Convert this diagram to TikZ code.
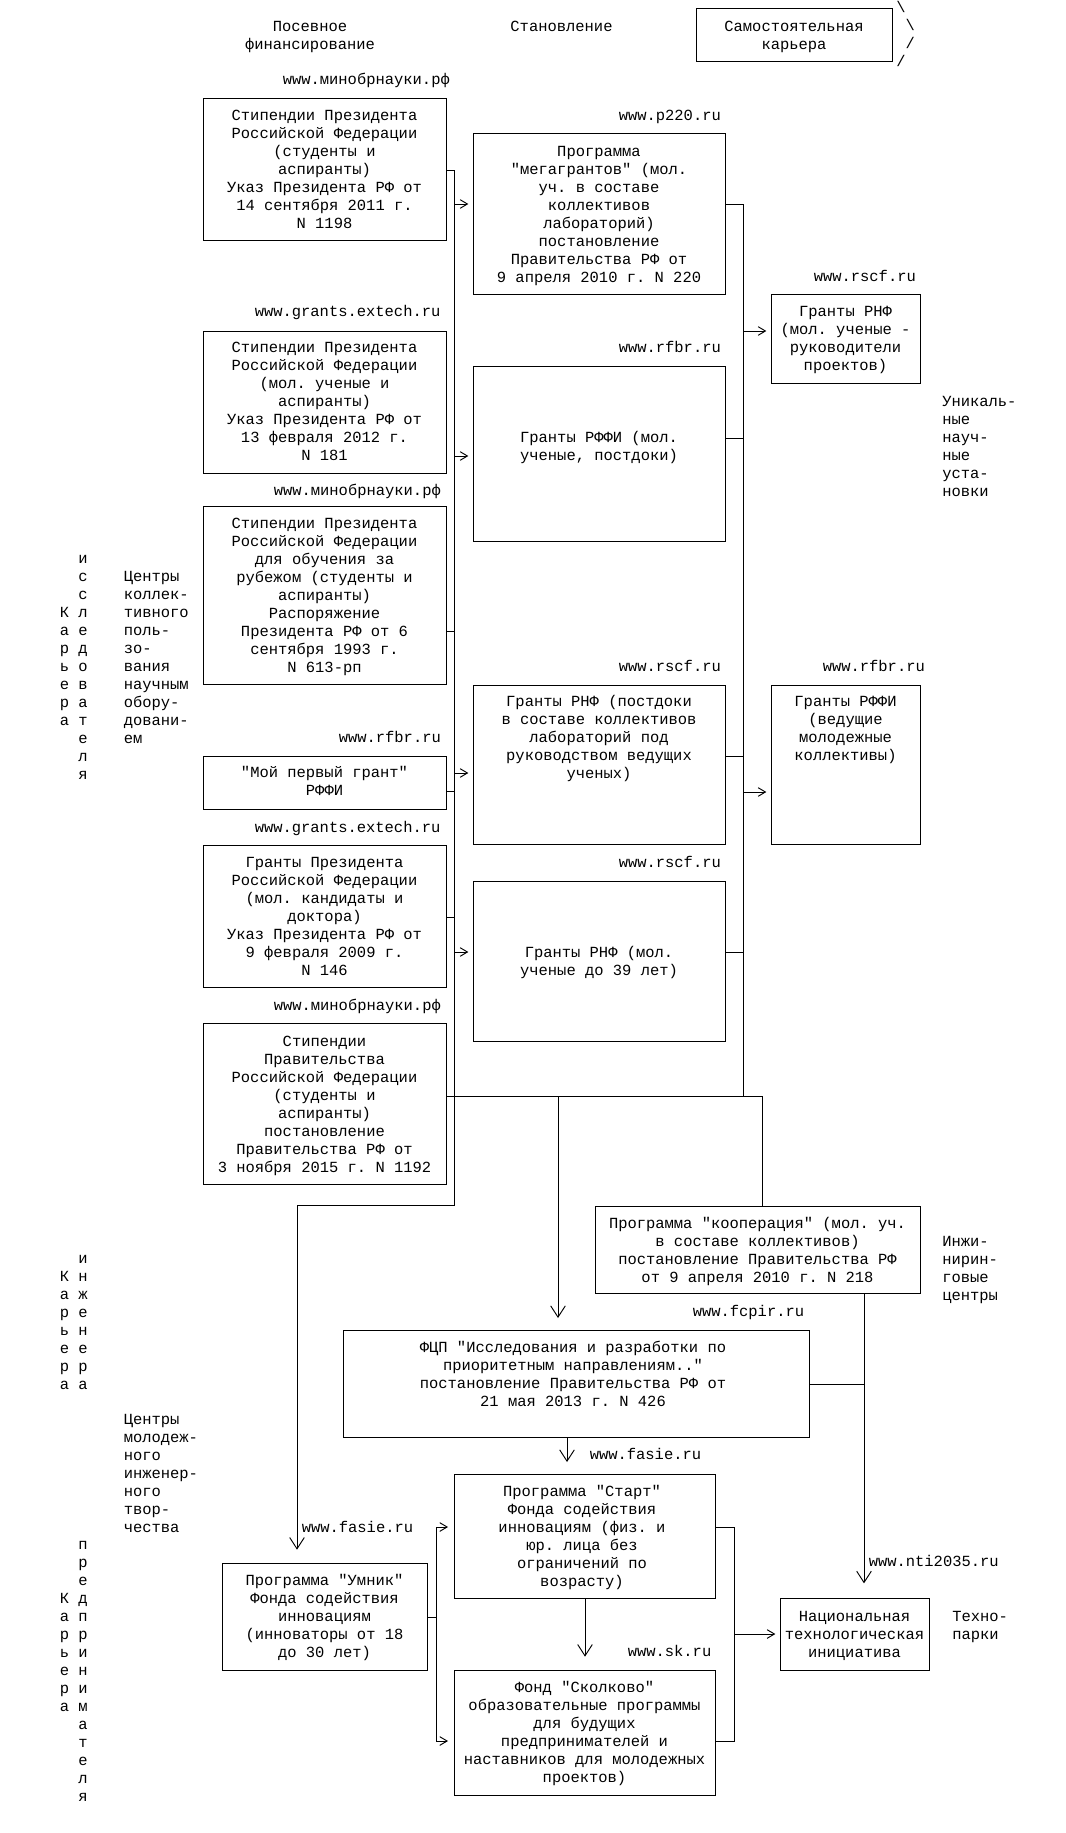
\documentclass[tikz,border=0pt]{standalone}
\usepackage{fontspec}
\setmonofont{Liberation Mono}
\usetikzlibrary{arrows.meta,fit}

\tikzset{
  box/.style={draw, line width=0.7pt, inner sep=0pt, outer sep=0pt},
  txt/.style={font=\ttfamily\fontsize{11.6}{13.5}\selectfont, align=center, inner sep=0pt, anchor=base},
  lbl/.style={txt, align=left, anchor=base west},
  url/.style={txt, anchor=base west},
  wire/.style={line width=0.7pt},
  arr/.style={wire, -{Straight Barb[length=5.5pt,width=6.5pt]}, shorten >=3.5pt},
  darr/.style={wire, -{Straight Barb[length=8.5pt,width=11pt]}},
}

\begin{document}
\begin{tikzpicture}[x=0.75pt,y=-0.75pt]
\useasboundingbox (0,0) rectangle (1065,1833);

% headings (a node's base is the base of its last line)
\node[txt] (seed) at (310,49.5) {Посевное\\финансирование};
\node[txt] (growth) at (561.5,31.5) {Становление};
\node[box, fit={(696,8) (892,61)}] (self) {};
\node[txt] (selft) at (794,49.5) {Самостоятельная\\карьера};
\node[lbl] (chevron) at (896,66.5) {\textbackslash\\\hphantom{/}\textbackslash\\\hphantom{/}/\\/};

% side labels
\node[txt] (res2) at (83,779.5) {и\\с\\с\\л\\е\\д\\о\\в\\а\\т\\е\\л\\я};
\node[txt] (res1) at (64.5,725.5) {К\\а\\р\\ь\\е\\р\\а};
\node[lbl] (ccu) at (123.5,743.5) {Центры\\коллек-\\тивного\\поль-\\зо-\\вания\\научным\\обору-\\довани-\\ем};
\node[txt] (eng2) at (83,1389.5) {и\\н\\ж\\е\\н\\е\\р\\а};
\node[txt] (eng1) at (64.5,1389.5) {К\\а\\р\\ь\\е\\р\\а};
\node[lbl] (yec) at (123.5,1532.5) {Центры\\молодеж-\\ного\\инженер-\\ного\\твор-\\чества};
\node[txt] (ent2) at (83,1801.5) {п\\р\\е\\д\\п\\р\\и\\н\\и\\м\\а\\т\\е\\л\\я};
\node[txt] (ent1) at (64.5,1711.5) {К\\а\\р\\ь\\е\\р\\а};
\node[lbl] (unique) at (942,496.5) {Уникаль-\\ные\\науч-\\ные\\уста-\\новки};
\node[lbl] (engc) at (942,1300.5) {Инжи-\\нирин-\\говые\\центры};
\node[lbl] (tpark) at (952,1639.5) {Техно-\\парки};

% left column
\node[url] (u1) at (282.5,84.5) {www.минобрнауки.рф};
\node[box, fit={(203,98) (446,240)}] (b1) {};
\node[txt] (b1t) at (324.5,228.5) {Стипендии Президента\\Российской Федерации\\(студенты и\\аспиранты)\\Указ Президента РФ от\\14 сентября 2011 г.\\N 1198};

\node[url] (u5) at (254.5,316.5) {www.grants.extech.ru};
\node[box, fit={(203,331) (446,473)}] (b5) {};
\node[txt] (b5t) at (324.5,460.5) {Стипендии Президента\\Российской Федерации\\(мол. ученые и\\аспиранты)\\Указ Президента РФ от\\13 февраля 2012 г.\\N 181};

\node[url] (u6) at (273.5,495.5) {www.минобрнауки.рф};
\node[box, fit={(203,506) (446,684)}] (b6) {};
\node[txt] (b6t) at (324.5,672.5) {Стипендии Президента\\Российской Федерации\\для обучения за\\рубежом (студенты и\\аспиранты)\\Распоряжение\\Президента РФ от 6\\сентября 1993 г.\\N 613-рп};

\node[url] (u7) at (338.5,742.5) {www.rfbr.ru};
\node[box, fit={(203,756) (446,809)}] (b7) {};
\node[txt] (b7t) at (324.5,795.5) {"Мой первый грант"\\РФФИ};

\node[url] (u11) at (254.5,832.5) {www.grants.extech.ru};
\node[box, fit={(203,845) (446,987)}] (b11) {};
\node[txt] (b11t) at (324.5,975.5) {Гранты Президента\\Российской Федерации\\(мол. кандидаты и\\доктора)\\Указ Президента РФ от\\9 февраля 2009 г.\\N 146};

\node[url] (u12) at (273.5,1010.5) {www.минобрнауки.рф};
\node[box, fit={(203,1023) (446,1184)}] (b12) {};
\node[txt] (b12t) at (324.5,1172.5) {Стипендии\\Правительства\\Российской Федерации\\(студенты и\\аспиранты)\\постановление\\Правительства РФ от\\3 ноября 2015 г. N 1192};

% middle column
\node[url] (um1) at (618.5,120.5) {www.p220.ru};
\node[box, fit={(473,133) (725,294)}] (m1) {};
\node[txt] (m1t) at (599,282.5) {Программа\\"мегагрантов" (мол.\\уч. в составе\\коллективов\\лабораторий)\\постановление\\Правительства РФ от\\9 апреля 2010 г. N 220};

\node[url] (um2) at (618.5,352.5) {www.rfbr.ru};
\node[box, fit={(473,366) (725,541)}] (m2) {};
\node[txt] (m2t) at (599,460.5) {Гранты РФФИ (мол.\\ученые, постдоки)};

\node[url] (um3) at (618.5,671.5) {www.rscf.ru};
\node[box, fit={(473,685) (725,844)}] (m3) {};
\node[txt] (m3t) at (599,778.5) {Гранты РНФ (постдоки\\в составе коллективов\\лабораторий под\\руководством ведущих\\ученых)};

\node[url] (um4) at (618.5,867.5) {www.rscf.ru};
\node[box, fit={(473,881) (725,1041)}] (m4) {};
\node[txt] (m4t) at (599,975.5) {Гранты РНФ (мол.\\ученые до 39 лет)};

% right column
\node[url] (ur1) at (813.5,281.5) {www.rscf.ru};
\node[box, fit={(771,294) (920,383)}] (r1) {};
\node[txt] (r1t) at (845.5,370.5) {Гранты РНФ\\(мол. ученые -\\руководители\\проектов)};

\node[url] (ur2) at (822.5,671.5) {www.rfbr.ru};
\node[box, fit={(771,685) (920,844)}] (r2) {};
\node[txt] (r2t) at (845.5,760.5) {Гранты РФФИ\\(ведущие\\молодежные\\коллективы)};

% lower part
\node[box, fit={(595,1206) (920,1293)}] (coop) {};
\node[txt] (coopt) at (757.5,1282.5) {Программа "кооперация" (мол. уч.\\в составе коллективов)\\постановление Правительства РФ\\от 9 апреля 2010 г. N 218};

\node[url] (ufcp) at (692.5,1316.5) {www.fcpir.ru};
\node[box, fit={(343,1330) (809,1437)}] (fcp) {};
\node[txt] (fcpt) at (573,1406.5) {ФЦП "Исследования и разработки по\\приоритетным направлениям.."\\постановление Правительства РФ от\\21 мая 2013 г. N 426};

\node[url] (ustart) at (589.5,1459.5) {www.fasie.ru};
\node[box, fit={(454,1474) (715,1598)}] (start) {};
\node[txt] (startt) at (582,1586.5) {Программа "Старт"\\Фонда содействия\\инновациям (физ. и\\юр. лица без\\ограничений по\\возрасту)};

\node[url] (usk) at (627.5,1656.5) {www.sk.ru};
\node[box, fit={(454,1670) (715,1795)}] (sk) {};
\node[txt] (skt) at (584.5,1782.5) {Фонд "Сколково"\\образовательные программы\\для будущих\\предпринимателей и\\наставников для молодежных\\проектов)};

\node[url] (uumnik) at (301.5,1532.5) {www.fasie.ru};
\node[box, fit={(222,1563) (427,1670)}] (umnik) {};
\node[txt] (umnikt) at (324.5,1657.5) {Программа "Умник"\\Фонда содействия\\инновациям\\(инноваторы от 18\\до 30 лет)};

\node[url] (unti) at (868.5,1566.5) {www.nti2035.ru};
\node[box, fit={(780,1598) (929,1670)}] (nti) {};
\node[txt] (ntit) at (854.5,1657.5) {Национальная\\технологическая\\инициатива};

% buses
\coordinate (lbus) at (454,170);
\coordinate (lknee) at (454,1205);
\coordinate (uknee) at (297,1205);
\coordinate (rbus) at (743,204);
\coordinate (hubL) at (558,1096);
\coordinate (hubR) at (762,1096);
\coordinate (nline) at (864,1384);
\coordinate (sbus) at (734,1527);
\coordinate (ubus) at (436,1617);

% left bus
\draw[darr, shorten >=10pt] (b1.east |- lbus) -- (lbus) -- (lknee) -- (uknee) -- (uknee |- umnik.north);
\draw[wire] (b6.east |- 0,631) -- (lbus |- 0,631);
\draw[wire] (b7.east |- 0,791) -- (lbus |- 0,791);
\draw[wire] (b11.east |- 0,917) -- (lbus |- 0,917);
\draw[arr] (lbus |- 0,204) -- (m1.west |- 0,204);
\draw[arr] (lbus |- 0,456) -- (m2.west |- 0,456);
\draw[arr] (lbus |- 0,773) -- (m3.west |- 0,773);
\draw[arr] (lbus |- 0,952) -- (m4.west |- 0,952);

% right bus
\draw[wire] (m1.east |- rbus) -- (rbus) -- (rbus |- hubR);
\draw[wire] (m2.east |- 0,438) -- (rbus |- 0,438);
\draw[wire] (m3.east |- 0,756) -- (rbus |- 0,756);
\draw[wire] (m4.east |- 0,952) -- (rbus |- 0,952);
\draw[arr] (rbus |- 0,331) -- (r1.west |- 0,331);
\draw[arr] (rbus |- 0,792) -- (r2.west |- 0,792);

% government scholarships line
\draw[wire] (b12.east |- hubR) -- (hubR) -- (coop.north -| hubR);
\draw[darr, shorten >=9pt] (hubL) -- (fcp.north -| hubL);

% engineering
\draw[darr, shorten >=11pt] (coop.south -| nline) -- (nti.north -| nline);
\draw[wire] (fcp.east |- nline) -- (nline);
\draw[darr, shorten >=9pt] (fcp.south -| 567,0) -- (start.north -| 567,0);

% entrepreneurship
\draw[wire] (start.east |- sbus) -- (sbus) -- (sbus |- 0,1741) -- (sk.east |- 0,1741);
\draw[arr] (sbus |- 0,1634) -- (nti.west |- 0,1634);
\draw[darr, shorten >=10pt] (start.south -| 585,0) -- (sk.north -| 585,0);
\draw[wire] (umnik.east |- ubus) -- (ubus);
\draw[arr, shorten >=4.5pt] (ubus) -- (ubus |- sbus) -- (start.west |- sbus);
\draw[arr, shorten >=4.5pt] (ubus) -- (ubus |- 0,1741) -- (sk.west |- 0,1741);
\end{tikzpicture}
\end{document}
